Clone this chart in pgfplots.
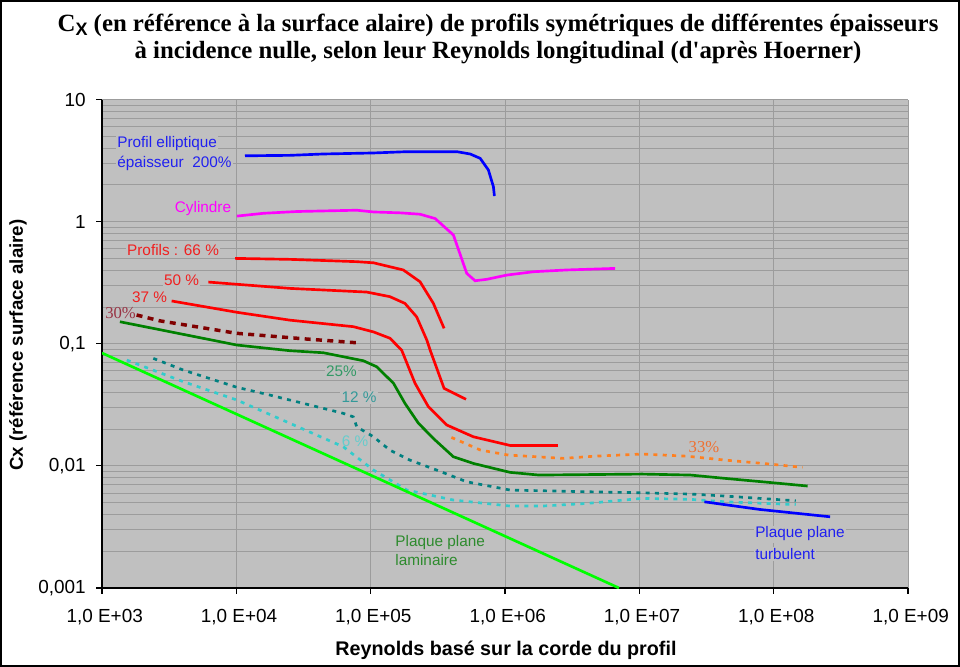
\documentclass[border=0pt]{standalone}
\usepackage{pgfplots}
\pgfplotsset{compat=1.18}
\usepackage{fontspec}
\setmainfont{Liberation Sans}
\newfontfamily\timesf{Liberation Serif}
\newfontfamily\arialf{Liberation Sans}
\definecolor{plotbg}{HTML}{C0C0C0}
\definecolor{gridc}{HTML}{9C9C9C}
\definecolor{cblue}{HTML}{0000FF}
\definecolor{cmag}{HTML}{FF00FF}
\definecolor{cred}{HTML}{FF0000}
\definecolor{cdred}{HTML}{800000}
\definecolor{cgreen}{HTML}{008000}
\definecolor{cteal}{HTML}{008080}
\definecolor{ccyan}{HTML}{33CCCC}
\definecolor{corange}{HTML}{FF8020}
\definecolor{clime}{HTML}{00FF00}
\definecolor{tblue}{HTML}{2020F0}
\definecolor{tred}{HTML}{F02020}
\definecolor{tdred}{HTML}{993344}
\definecolor{tgreen}{HTML}{339966}
\definecolor{tteal}{HTML}{339999}
\definecolor{tcyan}{HTML}{66CCCC}
\definecolor{tlam}{HTML}{2E8B2E}
\definecolor{torange}{HTML}{F07030}
\newcommand{\annot}{\fontsize{11.5}{13}\selectfont}
\newcommand{\annots}{\timesf\fontsize{12.5}{14}\selectfont}
\begin{document}
\begin{tikzpicture}[x=1pt,y=1pt]
\useasboundingbox (0,0) rectangle (720,500.25);
\draw[line width=1.5pt] (0.75,0.75) rectangle (719.25,499.5);
\node[anchor=base, font={\timesf\bfseries\fontsize{18.6}{22}\selectfont}] at (373.5,476.5)
  {C{\raisebox{-0.35ex}{\arialf\bfseries\fontsize{13.5}{13.5}\selectfont X}} (en référence à la surface alaire) de profils symétriques de différentes épaisseurs};
\node[anchor=base, font={\timesf\bfseries\fontsize{18.6}{22}\selectfont}] at (373.5,456)
  {à incidence nulle, selon leur Reynolds longitudinal (d'après Hoerner)};
\node[rotate=90, font={\bfseries\fontsize{14}{16}\selectfont}] at (13.5,241.5) {Cx (référence surface alaire)};
\node[font={\bfseries\fontsize{14.8}{17}\selectfont}] at (379.5,12.5) {Reynolds basé sur la corde du profil};
\begin{axis}[
  at={(76.5pt,59.25pt)}, anchor=south west,
  scale only axis, width=604.5pt, height=366.375pt,
  xmode=log, ymode=log,
  xmin=1e3, xmax=1e9, ymin=1e-3, ymax=10,
  axis background/.style={fill=plotbg},
  axis x line*=bottom, axis y line*=left,
  axis line style={black, line width=0.8pt},
  xtick={1e3,1e4,1e5,1e6,1e7,1e8,1e9},
  xticklabels={{1,0 E+03},{1,0 E+04},{1,0 E+05},{1,0 E+06},{1,0 E+07},{1,0 E+08},{1,0 E+09}},
  ytick={1e-3,1e-2,1e-1,1,10},
  yticklabels={{0,001},{0,01},{0,1},{1},{10}},
  yticklabel style={anchor=east, inner sep=0pt, xshift=-7.5pt},
  xticklabel style={anchor=north, inner sep=0pt, yshift=-11pt, xshift=2pt},
  xmajorgrids=true, ymajorgrids=true, yminorgrids=true,
  major grid style={draw=gridc, line width=0.7pt},
  minor grid style={draw=gridc, line width=0.7pt},
  tick align=outside, major tick length=4.5pt, minor tick length=0pt,
  tick style={black, line width=0.8pt},
  ticklabel style={font=\fontsize{14.2}{16}\selectfont},
  clip=true,
]
% labels (under the curves)
\node[anchor=west, text=tblue, fill=plotbg, inner sep=1pt, font=\annot] at (rel axis cs:0.017,0.910) {Profil elliptique};
\node[anchor=west, text=tblue, fill=plotbg, inner sep=1pt, font=\annot] at (rel axis cs:0.017,0.869) {épaisseur\ \ 200\%};
\node[text=cmag, fill=plotbg, inner sep=1pt, font=\annot] at (rel axis cs:0.1253,0.7758) {Cylindre};
\node[text=tred, fill=plotbg, inner sep=1pt, font=\annot] at (rel axis cs:0.0881,0.691) {Profils : 66 \%};
\node[text=tred, fill=plotbg, inner sep=1pt, font=\annot] at (rel axis cs:0.0986,0.6305) {50 \%};
\node[text=tred, fill=plotbg, inner sep=1pt, font=\annot] at (rel axis cs:0.0589,0.5947) {37 \%};
\node[text=tdred, inner sep=1pt, font=\annots] at (rel axis cs:0.023,0.5619) {30\%};
\node[text=tgreen, fill=plotbg, inner sep=1pt, font=\annot] at (rel axis cs:0.2971,0.4432) {25\%};
\node[text=tteal, fill=plotbg, inner sep=1pt, font=\annot] at (rel axis cs:0.3189,0.390) {12 \%};
\node[text=tcyan, inner sep=1pt, font=\annot] at (rel axis cs:0.3139,0.3009) {6 \%};
\node[anchor=west, text=tlam, fill=plotbg, inner sep=1pt, font=\annot] at (rel axis cs:0.362,0.0931) {Plaque plane};
\node[anchor=west, text=tlam, fill=plotbg, inner sep=1pt, font=\annot] at (rel axis cs:0.362,0.0563) {laminaire};
\node[text=torange, inner sep=1pt, font=\annots] at (rel axis cs:0.7469,0.2876) {33\%};
\node[anchor=west, text=tblue, fill=plotbg, inner sep=1pt, font=\annot] at (rel axis cs:0.8085,0.1105) {Plaque plane};
\node[anchor=west, text=tblue, fill=plotbg, inner sep=1pt, font=\annot] at (rel axis cs:0.8085,0.0696) {turbulent};

% Profil elliptique 200%
\addplot[cblue, line width=2pt] coordinates {
 (1.16e4,3.46) (2.51e4,3.49) (4.44e4,3.58) (1.05e5,3.65) (1.86e5,3.74) (4.38e5,3.74)
 (5.50e5,3.58) (6.53e5,3.30) (7.52e5,2.65) (8.20e5,1.93) (8.34e5,1.62)};
% Cylindre
\addplot[cmag, line width=2pt] coordinates {
 (1.01e4,1.11) (1.59e4,1.17) (2.82e4,1.21) (7.88e4,1.24) (1.05e5,1.20) (1.66e5,1.18)
 (2.33e5,1.15) (3.02e5,1.06) (4.13e5,0.777) (5.19e5,0.377) (5.99e5,0.328) (7.32e5,0.337)
 (1.03e6,0.365) (1.63e6,0.389) (2.88e6,0.402) (6.61e6,0.414)};
% 66 %
\addplot[cred, line width=2pt] coordinates {
 (9.78e3,0.500) (2.51e4,0.491) (7.88e4,0.470) (1.05e5,0.460) (1.75e5,0.402)
 (2.33e5,0.322) (2.93e5,0.214) (3.52e5,0.1337)};
% 50 %
\addplot[cred, line width=2pt] coordinates {
 (6.19e3,0.320) (2.51e4,0.284) (9.35e4,0.265) (1.39e5,0.243) (1.80e5,0.214) (2.20e5,0.166)
 (2.62e5,0.107) (2.77e5,0.0888) (3.52e5,0.0431) (5.13e5,0.0351)};
% 37 %
\addplot[cred, line width=2pt] coordinates {
 (3.30e3,0.224) (1.01e4,0.181) (2.51e4,0.156) (7.43e4,0.138) (1.05e5,0.125) (1.39e5,0.111)
 (1.70e5,0.0888) (2.14e5,0.0474) (2.69e5,0.0305) (3.69e5,0.0216) (5.82e5,0.0173)
 (1.09e6,0.0147) (2.47e6,0.0147)};
% 30 %
\addplot[cdred, line width=2.6pt, dash pattern=on 4.5pt off 4pt] coordinates {
 (1.81e3,0.172) (2.70e3,0.154) (1.01e4,0.1217) (3.34e4,0.1093) (7.88e4,0.1019)};
% 25 %
\addplot[cgreen, line width=2pt] coordinates {
 (1.36e3,0.1514) (1.01e4,0.0976) (2.51e4,0.0877) (4.44e4,0.0844) (8.82e4,0.0726)
 (1.11e5,0.0648) (1.48e5,0.0474) (1.80e5,0.0325) (2.27e5,0.0223) (3.02e5,0.01626)
 (4.13e5,0.01187) (5.82e5,0.01047) (1.09e6,0.00885) (1.79e6,0.00841) (1.05e7,0.00857)
 (2.41e7,0.00841) (4.35e7,0.00790) (9.93e7,0.00727) (1.79e8,0.00684)};
% 12 %
\addplot[cteal, line width=2pt, dash pattern=on 3pt off 4pt] coordinates {
 (2.41e3,0.0759) (4.03e3,0.0609) (1.01e4,0.0440) (1.78e4,0.0380) (3.15e4,0.0325)
 (6.26e4,0.0269) (7.43e4,0.0252) (7.88e4,0.0209) (1.05e5,0.0173) (1.39e5,0.01346)
 (1.96e5,0.01115) (3.10e5,0.00924) (5.19e5,0.00741) (1.09e6,0.00634) (4.10e6,0.00614)
 (1.05e7,0.00602) (2.41e7,0.00588) (4.35e7,0.00566) (7.84e7,0.00542) (1.46e8,0.00518)};
% 6 %
\addplot[ccyan, line width=2pt, dash pattern=on 3pt off 4pt] coordinates {
 (1.53e3,0.0735) (4.03e3,0.0489) (1.01e4,0.0346) (2.51e4,0.0223) (6.26e4,0.01433)
 (1.05e5,0.00924) (1.86e5,0.00634) (4.13e5,0.00525) (1.09e6,0.00469) (1.90e6,0.00469)
 (4.10e6,0.00493) (1.05e7,0.00542) (2.41e7,0.00532) (4.35e7,0.00508) (1.46e8,0.00482)};
% 33 %
\addplot[corange, line width=2pt, dash pattern=on 3pt off 4pt] coordinates {
 (3.99e5,0.0171) (6.58e5,0.01346) (1.06e6,0.01226) (2.71e6,0.01152) (4.62e6,0.0120)
 (1.05e7,0.0125) (2.27e7,0.0120) (4.35e7,0.01115) (9.35e7,0.01035) (1.64e8,0.00972)};
% Plaque plane laminaire
\addplot[clime, line width=2pt] coordinates {(1000,0.084) (7.06e6,0.001)};
% Plaque plane turbulent
\addplot[cblue, line width=2pt] coordinates {(3.05e7,0.00508) (7.84e7,0.0044) (2.63e8,0.00383)};
\end{axis}
\end{tikzpicture}
\end{document}
